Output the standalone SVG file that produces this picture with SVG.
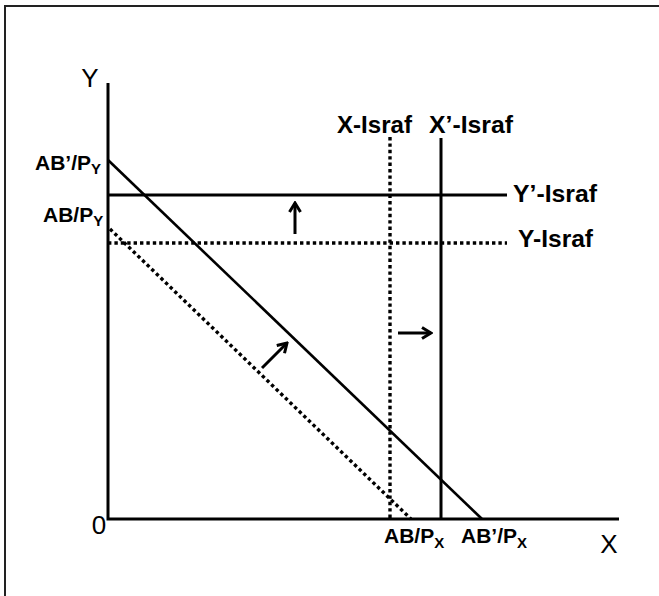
<svg xmlns="http://www.w3.org/2000/svg" width="659" height="596" viewBox="0 0 659 596">
<defs>
<marker id="head" viewBox="0 0 14 14" refX="12" refY="7" markerWidth="14" markerHeight="14" markerUnits="userSpaceOnUse" orient="auto">
<path d="M3,1.5 L12,7 L3,12.5" fill="none" stroke="#000" stroke-width="3"/>
</marker>
<style>
.ax{stroke:#000;stroke-width:3;fill:none}
.sol{stroke:#000;stroke-width:2.6;fill:none}
.dot{stroke:#000;stroke-width:3.4;stroke-dasharray:3.4 3;fill:none}
.arr{stroke:#000;stroke-width:3;fill:none;marker-end:url(#head)}
.lb{font-family:"Liberation Sans",Arial,sans-serif;font-weight:bold;font-size:21px;fill:#000}
.big{font-family:"Liberation Sans",Arial,sans-serif;font-weight:bold;font-size:24px;fill:#000}
.ax-t{font-family:"Liberation Sans",Arial,sans-serif;font-size:26px;fill:#000}
</style>
</defs>
<rect width="659" height="596" fill="#fff"/>
<path d="M5,596 V6 H659" fill="none" stroke="#222" stroke-width="2"/>
<g id="axes">
<path class="ax" d="M108,83 V519 H619"/>
<text class="ax-t" x="90" y="87" text-anchor="middle">Y</text>
<text class="ax-t" x="609" y="553" text-anchor="middle">X</text>
<text class="ax-t" x="99" y="534" text-anchor="middle">0</text>
</g>
<g id="connectors">
<line id="budget-new" class="sol" x1="108" y1="160" x2="482" y2="519"/>
<line id="budget-old" class="dot" x1="110" y1="229" x2="411" y2="519"/>
<line id="y-israf-new" class="ax" x1="108" y1="195" x2="507" y2="195"/>
<line id="y-israf-old" class="dot" x1="108" y1="243" x2="507" y2="243"/>
<line id="x-israf-old" class="dot" x1="390" y1="137" x2="390" y2="519"/>
<line id="x-israf-new" class="ax" x1="441" y1="138" x2="441" y2="519"/>
<line class="arr" x1="295" y1="234" x2="295" y2="203"/>
<line class="arr" x1="398" y1="333" x2="431" y2="333"/>
<line class="arr" x1="262" y1="368" x2="287" y2="343"/>
</g>
<g id="labels">
<text class="big" x="337" y="133" textLength="75" lengthAdjust="spacingAndGlyphs">X-Israf</text>
<text class="big" x="429" y="133" textLength="84" lengthAdjust="spacingAndGlyphs">X’-Israf</text>
<text class="big" x="513" y="202" textLength="84" lengthAdjust="spacingAndGlyphs">Y’-Israf</text>
<text class="big" x="518" y="247" textLength="75" lengthAdjust="spacingAndGlyphs">Y-Israf</text>
<text class="lb" x="35" y="170">AB’/P<tspan font-size="15" dy="4">Y</tspan></text>
<text class="lb" x="43" y="222">AB/P<tspan font-size="15" dy="4">Y</tspan></text>
<text class="lb" x="384" y="543">AB/P<tspan font-size="15" dy="5">X</tspan></text>
<text class="lb" x="461" y="543">AB’/P<tspan font-size="15" dy="5">X</tspan></text>
</g>
</svg>
